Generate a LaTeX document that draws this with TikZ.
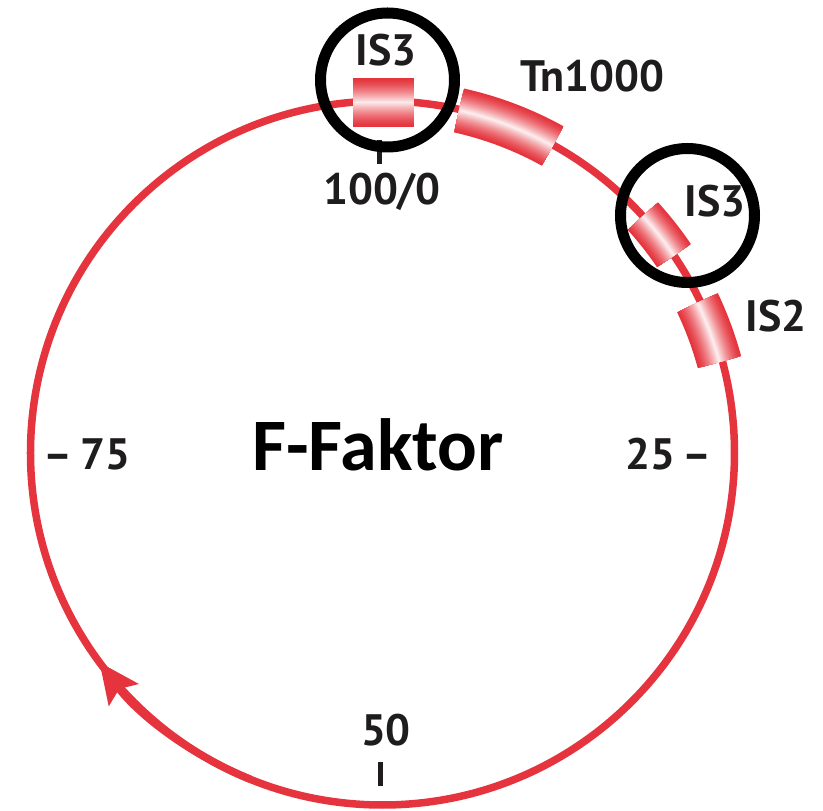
\documentclass[tikz,border=0pt]{standalone}
\usepackage{fontspec}
\setmainfont{PT Sans}
\newfontfamily\titlefont{Carlito}
\usetikzlibrary{arrows.meta}
\definecolor{fred}{HTML}{E5343D}
\definecolor{fink}{HTML}{1E1C1D}
\tikzset{
  ring/.style={draw=fred,line width=7.5pt},
  spot/.style={circle,draw=black,line width=11pt,minimum size=134pt,inner sep=0pt},
  glab/.style={font=\fontsize{44}{50}\selectfont\bfseries,text=fink,inner sep=0pt,anchor=base},
  mtick/.style={draw=fink,line width=5pt},
}
% shaded insertion element on the backbone: start angle, end angle, thickness, radius
\newcommand{\genebox}[4]{%
  \foreach \k in {0,...,24}{
    \pgfmathsetmacro{\gw}{#3*(1-\k/25)}
    \pgfmathsetmacro{\gm}{100-90*(\k/24)^1.4}
    \draw[line width=\gw pt,color=fred!\gm!white]
      (#1:#4pt) arc[start angle=#1,end angle=#2,radius=#4pt];
  }}

\begin{document}
\begin{tikzpicture}[x=1pt,y=1pt]
  \useasboundingbox (-382.5,-358) rectangle (440.5,453);

  % ================= backbone =================
  \draw[ring] (0,0) circle[radius=352pt];
  \draw[ring,-{Stealth[length=40pt,width=36pt,inset=7pt]}]
    (248:352pt) arc[start angle=248,end angle=216.5,radius=352pt];

  % map ticks
  \coordinate (t0a) at (-2.5,313);
  \coordinate (t0b) at (-2.5,289);
  \coordinate (t50a) at (-2,-309);
  \coordinate (t50b) at (-2,-333);
  \draw[mtick] (t0a) -- (t0b);
  \draw[mtick] (t50a) -- (t50b);

  % ================= elements =================
  % IS3 at 100/0 (straight block)
  \foreach \k in {0,...,24}{
    \pgfmathsetmacro{\gw}{49*(1-\k/25)}
    \pgfmathsetmacro{\gm}{100-90*(\k/24)^1.4}
    \draw[line width=\gw pt,color=fred!\gm!white] (-29.5,350.5) -- (31.5,350.5);
  }
  \genebox{77.4}{61}{45}{351}   % Tn1000
  \genebox{42.3}{34.1}{41}{352} % IS3
  \genebox{25.5}{15.1}{45}{349} % IS2

  % highlighted IS3 copies
  \node[spot] (hlA) at (5,373) {};
  \node[spot] (hlB) at (305,237.5) {};

  % ================= labels =================
  \node[glab] (lisA) at (3.5,387) {IS3};
  \node[glab] (ltn)  at (210,361) {Tn1000};
  \node[glab] (lisB) at (332.5,236) {IS3};
  \node[glab] (lis2) at (393.5,121) {IS2};
  \node[glab] (m0)   at (-0.5,248) {100/0};
  \node[glab] (m25)  at (286,-17) {25\,–};
  \node[glab] (m50)  at (3.5,-293) {50};
  \node[glab] (m75)  at (-295.5,-17) {–\,75};
  \node[font=\titlefont\fontsize{74}{80}\selectfont\bfseries,text=black,
        inner sep=0pt,anchor=base] (title) at (-4.5,-18) {F-Faktor};
\end{tikzpicture}
\end{document}
